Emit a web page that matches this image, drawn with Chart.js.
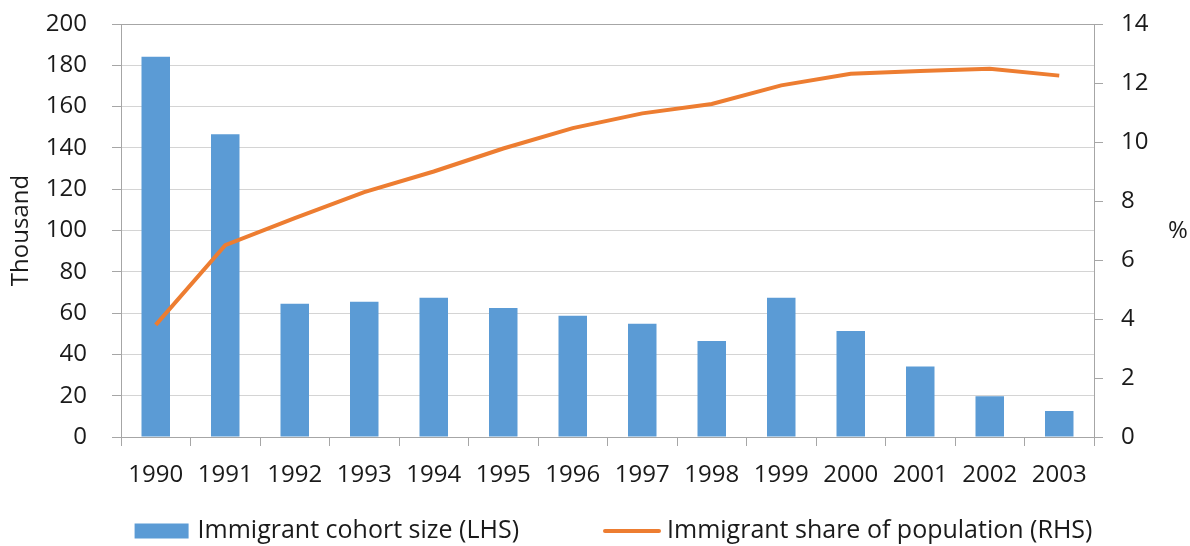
<!DOCTYPE html>
<html>
<head>
<meta charset="utf-8">
<script src="https://cdn.jsdelivr.net/npm/chart.js@4"></script>
<style>
  html, body { margin: 0; padding: 0; background: #ffffff; }
  #wrap { width: 1190px; height: 546px; }
</style>
</head>
<body>
<div id="wrap"><canvas id="c" width="1190" height="546"></canvas></div>
<script>
// ---- data ----
const years = ['1990','1991','1992','1993','1994','1995','1996','1997','1998','1999','2000','2001','2002','2003'];
const cohortSize = [184.2, 146.6, 64.5, 65.5, 67.4, 62.5, 58.7, 54.8, 46.5, 67.4, 51.3, 34.2, 19.7, 12.6];
const populationShare = [3.80, 6.50, 7.42, 8.30, 9.00, 9.78, 10.47, 10.97, 11.29, 11.92, 12.31, 12.41, 12.48, 12.25];
const leftTitle = 'Thousand';
const rightTitle = '%';
const seriesNames = ['Immigrant cohort size (LHS)', 'Immigrant share of population (RHS)'];

const BLUE = '#5B9BD5';
const ORANGE = '#ED7D31';
const AXIS = '#a6a6a6';
const GRID = '#d4d4d4';
const TEXT = '#1a1a1a';
const FONT = "'Open Sans', 'Noto Sans', sans-serif";

Chart.defaults.font.family = FONT;
Chart.defaults.font.size = 24;
Chart.defaults.color = TEXT;

// custom legend + upright right-axis title
const extras = {
  id: 'extras',
  afterDraw(chart) {
    const ctx = chart.ctx;
    const ca = chart.chartArea;
    ctx.save();
    ctx.font = '24px ' + FONT;
    ctx.fillStyle = TEXT;
    // right axis title (upright)
    ctx.textAlign = 'center';
    ctx.textBaseline = 'middle';
    ctx.fillText(rightTitle, chart.width - 12, (ca.top + ca.bottom) / 2 + 1);

    // legend
    ctx.font = '25px ' + FONT;
    const ds = chart.data.datasets;
    const boxW = 54, boxH = 15, lineW = 58, gapText1 = 9, gapText2 = 6, gapItems = 84;
    const w1 = ctx.measureText(ds[0].label).width;
    const w2 = ctx.measureText(ds[1].label).width;
    const total = boxW + gapText1 + w1 + gapItems + lineW + gapText2 + w2;
    const cx = (ca.left + ca.right) / 2 + 6;
    let x = cx - total / 2;
    const midY = chart.height - 15;
    ctx.textAlign = 'left';
    ctx.textBaseline = 'middle';
    ctx.fillStyle = ds[0].backgroundColor;
    ctx.fillRect(x, midY - boxH / 2, boxW, boxH);
    x += boxW + gapText1;
    ctx.fillStyle = TEXT;
    ctx.fillText(ds[0].label, x, midY);
    x += w1 + gapItems;
    ctx.strokeStyle = ds[1].borderColor;
    ctx.lineWidth = 4;
    ctx.lineCap = 'round';
    ctx.beginPath();
    ctx.moveTo(x + 2, midY);
    ctx.lineTo(x + lineW - 2, midY);
    ctx.stroke();
    x += lineW + gapText2;
    ctx.fillText(ds[1].label, x, midY);
    ctx.restore();
  }
};

function fixVertical(width) {
  return function (scale) {
    scale.width = width;
    scale.paddingTop = 0;
    scale.paddingBottom = 0;
  };
}

new Chart(document.getElementById('c'), {
  type: 'bar',
  data: {
    labels: years,
    datasets: [
      {
        type: 'bar',
        label: seriesNames[0],
        data: cohortSize,
        backgroundColor: BLUE,
        borderWidth: 0,
        barPercentage: 0.41,
        categoryPercentage: 1.0,
        yAxisID: 'y',
        order: 2
      },
      {
        type: 'line',
        label: seriesNames[1],
        data: populationShare,
        borderColor: ORANGE,
        backgroundColor: ORANGE,
        borderWidth: 4,
        pointRadius: 0,
        tension: 0,
        fill: false,
        yAxisID: 'y1',
        order: 1
      }
    ]
  },
  options: {
    responsive: false,
    animation: false,
    devicePixelRatio: 1,
    layout: { padding: { top: 24, bottom: 0, left: 0, right: 0 } },
    plugins: {
      legend: { display: false },
      tooltip: { enabled: false }
    },
    scales: {
      x: {
        type: 'category',
        offset: true,
        grid: {
          offset: true,
          drawOnChartArea: false,
          drawTicks: true,
          tickLength: 9,
          tickColor: AXIS,
          tickWidth: 1
        },
        border: { display: true, color: AXIS, width: 1 },
        ticks: { padding: 15, color: TEXT, font: { size: 24 }, maxRotation: 0, autoSkip: false },
        afterFit(scale) { scale.height = 109; scale.paddingLeft = 0; scale.paddingRight = 0; }
      },
      y: {
        type: 'linear',
        position: 'left',
        min: 0,
        max: 200,
        grid: {
          color: (c) => (c.tick && c.tick.value === 200 ? AXIS : GRID),
          lineWidth: 1,
          drawTicks: true,
          tickLength: 9,
          tickColor: AXIS
        },
        border: { display: true, color: AXIS, width: 1 },
        ticks: { stepSize: 20, padding: 25, color: TEXT, font: { size: 24 }, autoSkip: false },
        title: { display: true, text: leftTitle, color: TEXT, font: { size: 24 }, padding: { top: 7, bottom: 0 } },
        afterFit: fixVertical(121)
      },
      y1: {
        type: 'linear',
        position: 'right',
        min: 0,
        max: 14,
        grid: {
          drawOnChartArea: false,
          drawTicks: true,
          tickLength: 9,
          tickColor: AXIS
        },
        border: { display: true, color: AXIS, width: 1 },
        ticks: { stepSize: 2, padding: 18, color: TEXT, font: { size: 24 }, autoSkip: false },
        afterFit: fixVertical(96)
      }
    }
  },
  plugins: [extras]
});
</script>
</body>
</html>
